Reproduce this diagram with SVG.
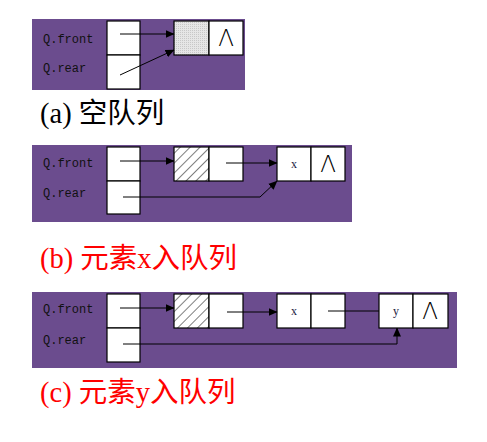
<svg xmlns="http://www.w3.org/2000/svg" width="487" height="442" viewBox="0 0 487 442">
<style>
.panel{fill:#6b4c8e}
.cell{fill:#fff;stroke:#000;stroke-width:1.2}
.lbl{font-family:"Liberation Mono",monospace;font-size:12px;fill:#111}
.val{font-family:"Liberation Serif",serif;font-size:12px;fill:#1a1a40;text-anchor:middle}
.nil{font-family:"DejaVu Sans ExtraLight","DejaVu Sans",sans-serif;font-weight:200;font-size:23px;fill:#000;text-anchor:middle}
.cap{font-family:"Liberation Serif","Noto Sans CJK SC",serif;font-size:28.5px}
.link{fill:none;stroke:#000;stroke-width:1}
</style>
<defs>
<marker id="ah" markerWidth="9" markerHeight="8" refX="8.5" refY="4" orient="auto" markerUnits="userSpaceOnUse">
<path d="M0,0 L9,4 L0,8 Z" fill="#000"/>
</marker>
<pattern id="hatch" width="7" height="7" patternUnits="userSpaceOnUse" patternTransform="rotate(45)">
<rect width="7" height="7" fill="#fff"/>
<line x1="0" y1="0" x2="0" y2="7" stroke="#000" stroke-width="1"/>
</pattern>
<pattern id="dots" width="2" height="2" patternUnits="userSpaceOnUse">
<rect width="2" height="2" fill="#e6e6e6"/>
<rect width="1" height="1" fill="#c8c8c8"/>
</pattern>
</defs>

<!-- panels -->
<rect class="panel" x="32" y="19" width="213" height="71"/>
<rect class="panel" x="32" y="145" width="320" height="77"/>
<rect class="panel" x="32" y="292" width="425" height="76"/>

<!-- (a) -->
<g id="a-labels">
<text class="lbl" x="43" y="43">Q.front</text>
<text class="lbl" x="43" y="72">Q.rear</text>
</g>
<g id="a-queue">
<rect class="cell" x="107" y="21" width="33" height="34"/>
<rect class="cell" x="107" y="55" width="33" height="34"/>
</g>
<g id="a-head">
<rect class="cell" x="174" y="21" width="35" height="34" style="fill:url(#dots)"/>
<rect class="cell" x="209" y="21" width="34" height="34"/>
<text class="nil" x="226" y="46">Λ</text>
</g>
<text class="cap" x="40" y="123" fill="#000">(a) 空队列</text>

<!-- (b) -->
<g id="b-labels">
<text class="lbl" x="43" y="167">Q.front</text>
<text class="lbl" x="43" y="197">Q.rear</text>
</g>
<g id="b-queue">
<rect class="cell" x="107" y="147" width="33" height="34"/>
<rect class="cell" x="107" y="181" width="33" height="33"/>
</g>
<g id="b-head">
<rect class="cell" x="174" y="147" width="35" height="34" style="fill:url(#hatch)"/>
<rect class="cell" x="209" y="147" width="34" height="34"/>
</g>
<g id="b-x">
<rect class="cell" x="277" y="147" width="34" height="34"/>
<rect class="cell" x="311" y="147" width="34" height="34"/>
<text class="val" x="294" y="168">x</text>
<text class="nil" x="328" y="172">Λ</text>
</g>
<text class="cap" x="40" y="268" fill="#ff0000">(b) 元素x入队列</text>

<!-- (c) -->
<g id="c-labels">
<text class="lbl" x="43" y="313">Q.front</text>
<text class="lbl" x="43" y="344">Q.rear</text>
</g>
<g id="c-queue">
<rect class="cell" x="107" y="294" width="33" height="34"/>
<rect class="cell" x="107" y="328" width="33" height="34"/>
</g>
<g id="c-head">
<rect class="cell" x="174" y="294" width="35" height="34" style="fill:url(#hatch)"/>
<rect class="cell" x="209" y="294" width="34" height="34"/>
</g>
<g id="c-x">
<rect class="cell" x="277" y="294" width="34" height="34"/>
<rect class="cell" x="311" y="294" width="34" height="34"/>
<text class="val" x="294" y="315">x</text>
</g>
<g id="c-y">
<rect class="cell" x="379" y="294" width="34" height="34"/>
<rect class="cell" x="413" y="294" width="35" height="34"/>
<text class="val" x="396" y="315">y</text>
<text class="nil" x="430" y="319">Λ</text>
</g>
<text class="cap" x="40" y="402" fill="#ff0000">(c) 元素y入队列</text>

<!-- connectors -->
<g id="connectors">
<line class="link" x1="120" y1="34" x2="174" y2="34" marker-end="url(#ah)"/>
<line class="link" x1="120" y1="75" x2="174" y2="50" marker-end="url(#ah)"/>

<line class="link" x1="120" y1="161" x2="174" y2="161" marker-end="url(#ah)"/>
<line class="link" x1="226" y1="163" x2="277" y2="163" marker-end="url(#ah)"/>
<polyline class="link" points="123,197 260,197 277,181" marker-end="url(#ah)"/>

<line class="link" x1="120" y1="308" x2="174" y2="308" marker-end="url(#ah)"/>
<line class="link" x1="227" y1="312" x2="277" y2="312" marker-end="url(#ah)"/>
<line class="link" x1="328" y1="311" x2="379" y2="311"/>
<polyline class="link" points="123,344 397,344 397,328" marker-end="url(#ah)"/>
</g>
</svg>
